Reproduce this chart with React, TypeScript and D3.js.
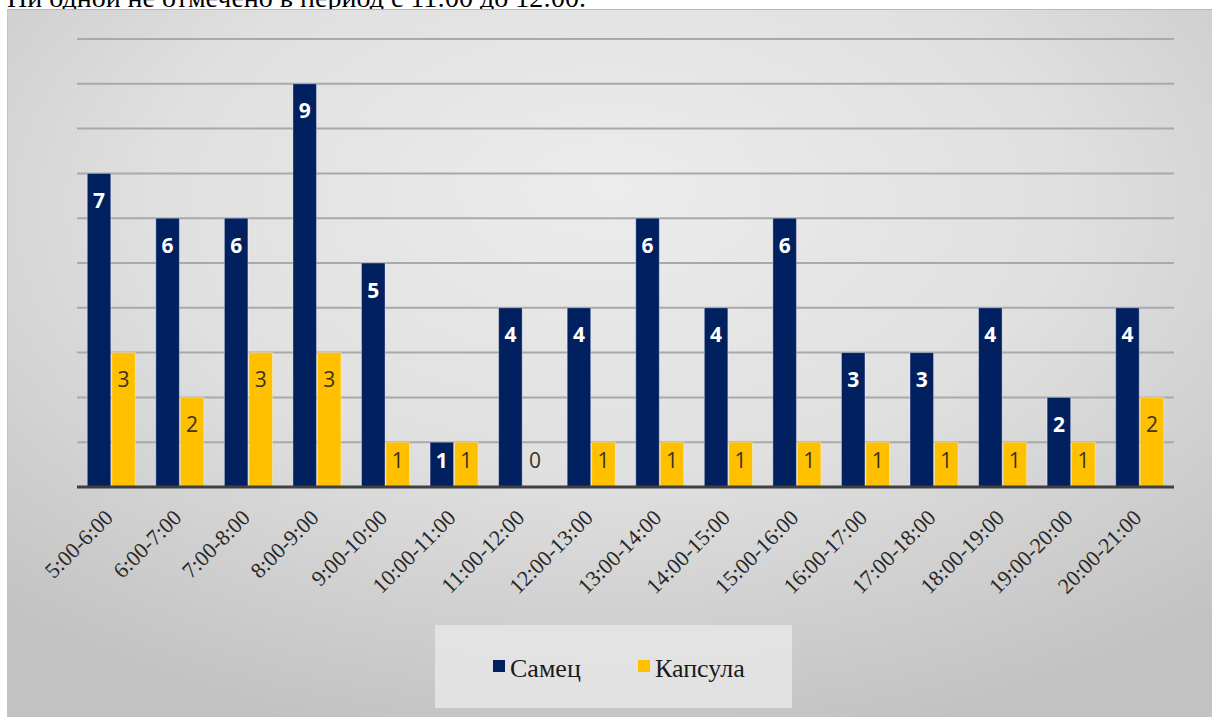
import React from 'react';
import * as d3 from 'd3';

const categories = [
  '5:00-6:00', '6:00-7:00', '7:00-8:00', '8:00-9:00', '9:00-10:00', '10:00-11:00',
  '11:00-12:00', '12:00-13:00', '13:00-14:00', '14:00-15:00', '15:00-16:00',
  '16:00-17:00', '17:00-18:00', '18:00-19:00', '19:00-20:00', '20:00-21:00',
];
const maleValues = [7, 6, 6, 9, 5, 1, 4, 4, 6, 4, 6, 3, 3, 4, 2, 4];
const capsuleValues = [3, 2, 3, 3, 1, 1, 0, 1, 1, 1, 1, 1, 1, 1, 1, 2];
const seriesNames = ['Самец', 'Капсула'];
const seriesColors = ['#002060', '#FFC000'];
const yTicks = [1, 2, 3, 4, 5, 6, 7, 8, 9, 10];
const caption = 'Ни одной не отмечено в период с 11:00 до 12:00.';

const W = 1212;
const H = 717;
const plotLeft = 77;
const plotRight = 1174;
const plotTop = 39;
const plotBottom = 487;

export default function App() {
  const x0 = d3.scaleBand<string>().domain(categories).range([plotLeft, plotRight]).paddingInner(0.285).paddingOuter(0.1425);
  const x1 = d3.scaleBand<string>().domain(seriesNames).range([0, x0.bandwidth()]).padding(0);
  const y = d3.scaleLinear().domain([0, 10]).range([plotBottom, plotTop]);
  const series = [maleValues, capsuleValues];

  const serif = { fontFamily: "'Liberation Serif', 'DejaVu Serif', serif" };
  const sans = { fontFamily: "'Open Sans', 'Noto Sans', sans-serif" };

  return (
    <svg width={W} height={H} style={{ position: 'absolute', left: 0, top: 0, background: '#fff' }}>
      <defs>
        <radialGradient id="bg" cx="0.5" cy="0.3" r="0.75" fx="0.5" fy="0.25">
          <stop offset="0" stopColor="#ececec" />
          <stop offset="0.5" stopColor="#e0e0e0" />
          <stop offset="1" stopColor="#c2c2c2" />
        </radialGradient>
      </defs>
      <text x={7} y={7} style={serif} fontSize={28} fill="#000">{caption}</text>
      <rect x={7} y={9} width={W - 7} height={H - 9} fill="url(#bg)" />
      <line x1={7} x2={W} y1={9.5} y2={9.5} stroke="#b8b8b8" strokeWidth={1} />
      <line x1={7.5} x2={7.5} y1={9} y2={H} stroke="#c4c4c4" strokeWidth={1} />

      {yTicks.map((t) => (
        <line key={t} x1={plotLeft} x2={plotRight} y1={y(t)} y2={y(t)} stroke="#a9a9a9" strokeWidth={2} />
      ))}

      {categories.map((c, i) => (
        <g key={c} transform={`translate(${x0(c)},0)`}>
          {series.map((vals, s) => {
            const v = vals[i];
            const bx = x1(seriesNames[s])!;
            const bw = x1.bandwidth();
            const top = y(v);
            const labelY = Math.min(top + 27, plotBottom - 27);
            return (
              <g key={s}>
                {v > 0 && (
                  <rect x={bx + 0.5} y={top} width={bw - 1} height={plotBottom - top}
                    fill={seriesColors[s]} stroke="rgba(255,255,255,0.35)" strokeWidth={1} />
                )}
                <text x={bx + bw / 2} y={labelY} dy="0.36em" textAnchor="middle"
                  style={sans} fontSize={21} fontWeight={s === 0 ? 700 : 400}
                  fill={s === 0 ? '#ffffff' : '#3a3320'}>{v}</text>
              </g>
            );
          })}
        </g>
      ))}

      <line x1={plotLeft} x2={plotRight} y1={plotBottom} y2={plotBottom} stroke="#404040" strokeWidth={3} />

      {categories.map((c) => {
        const cx = x0(c)! + x0.bandwidth() / 2 + 3;
        const cy = plotBottom + 32;
        return (
          <text key={c} transform={`translate(${cx},${cy}) rotate(-45)`} textAnchor="end"
            style={serif} fontSize={22} fill="#262626">{c}</text>
        );
      })}

      <rect x={435} y={625} width={357} height={83} fill="#e6e6e6" opacity={0.85} />
      {seriesNames.map((n, s) => {
        const lx = s === 0 ? 493 : 638;
        return (
          <g key={n}>
            <rect x={lx} y={660} width={12} height={12} fill={seriesColors[s]} />
            <text x={lx + 17} y={677} style={serif} fontSize={26} fill="#1a1a1a">{n}</text>
          </g>
        );
      })}
    </svg>
  );
}
